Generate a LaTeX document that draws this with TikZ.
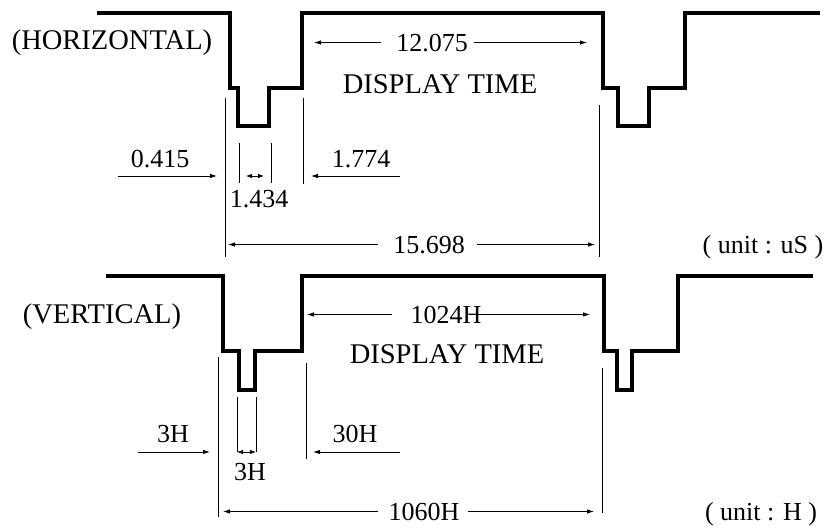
\documentclass[tikz,border=0pt]{standalone}
\usepackage{fontspec}
\setmainfont{Liberation Serif}
\usetikzlibrary{arrows.meta}

\tikzset{
  wave/.style={line width=3.2pt, line join=miter},
  extline/.style={line width=0.8pt},
  dimarrow/.style={line width=0.8pt, -{Latex[length=7pt,width=4.5pt]}},
  dimboth/.style={line width=0.8pt, {Latex[length=6pt,width=4.5pt]}-{Latex[length=6pt,width=4.5pt]}},
  bigtext/.style={font=\fontsize{28.5}{30}\selectfont, inner sep=0pt, anchor=base},
  numtext/.style={font=\fontsize{26}{28}\selectfont, inner sep=0pt, anchor=base}
}

\begin{document}
\begin{tikzpicture}[x=1pt,y=-1pt]
    \fill[white] (0,0) rectangle (831,528);
    \useasboundingbox (0,0) rectangle (831,528);

    % Horizontal timing
    \draw[wave] (97,13) -| (230,88) -| (238,126) -| (269,88) -| (302,13)
        -| (603,88) -| (618,126) -| (649,88) -| (685,13) -- (820,13);
    \node[bigtext] (hname) at (112,49) {(HORIZONTAL)};
    \node[numtext] (h12075) at (432,51) {12.075};
    \node[bigtext] (hdisp) at (440,93) {DISPLAY TIME};
    \node[numtext] (h0415) at (160,167) {0.415};
    \node[numtext] (h1434) at (259,207) {1.434};
    \node[numtext] (h1774) at (361,167) {1.774};
    \node[numtext] (h15698) at (429,253) {15.698};
    \node[numtext] (hunit) at (763,253) {( unit : uS )};

    \coordinate (hA1) at (225,98);  \coordinate (hA2) at (225,257);
    \coordinate (hB1) at (239,143); \coordinate (hB2) at (239,183);
    \coordinate (hC1) at (271,143); \coordinate (hC2) at (271,183);
    \coordinate (hD1) at (303,98);  \coordinate (hD2) at (303,184);
    \coordinate (hE1) at (599,105); \coordinate (hE2) at (599,257);
    \draw[extline] (hA1) -- (hA2);
    \draw[extline] (hB1) -- (hB2);
    \draw[extline] (hC1) -- (hC2);
    \draw[extline] (hD1) -- (hD2);
    \draw[extline] (hE1) -- (hE2);

    \coordinate (h415s) at (118,176); \coordinate (h415e) at (217,176);
    \coordinate (h1434s) at (246,176); \coordinate (h1434e) at (264,176);
    \coordinate (h1774s) at (400,176); \coordinate (h1774e) at (311,176);
    \coordinate (h12l) at (314,43); \coordinate (h12r) at (587,43);
    \coordinate (h156l) at (228,245); \coordinate (h156r) at (595,245);
    \draw[dimarrow] (h415s) -- (h415e);
    \draw[dimboth] (h1434s) -- (h1434e);
    \draw[dimarrow] (h1774s) -- (h1774e);
    \draw[dimarrow,shorten <=15pt] (h12075.west) -- (h12075.west -| h12l);
    \draw[dimarrow,shorten <=6pt] (h12075.east) -- (h12075.east -| h12r);
    \draw[dimarrow,shorten <=15pt] (h15698.west) -- (h15698.west -| h156l);
    \draw[dimarrow,shorten <=12pt] (h15698.east) -- (h15698.east -| h156r);

    % Vertical timing
    \draw[wave] (106,276) -| (223,351) -| (239,390) -| (255,351) -| (302,276)
        -| (604,351) -| (617,390) -| (632,351) -| (678,276) -- (813,276);
    \node[bigtext] (vname) at (102,323) {(VERTICAL)};
    \node[numtext] (v1024) at (446,323) {1024H};
    \node[bigtext] (vdisp) at (447,363) {DISPLAY TIME};
    \node[numtext] (v3a) at (173,442) {3H};
    \node[numtext] (v3b) at (250,480) {3H};
    \node[numtext] (v30) at (355,442) {30H};
    \node[numtext] (v1060) at (424,520) {1060H};
    \node[numtext] (vunit) at (761,520) {( unit : H )};

    \coordinate (vA1) at (218,357); \coordinate (vA2) at (218,517);
    \coordinate (vB1) at (237,397); \coordinate (vB2) at (237,452);
    \coordinate (vC1) at (256,397); \coordinate (vC2) at (256,452);
    \coordinate (vD1) at (306,363); \coordinate (vD2) at (306,459);
    \coordinate (vE1) at (602,368); \coordinate (vE2) at (602,513);
    \draw[extline] (vA1) -- (vA2);
    \draw[extline] (vB1) -- (vB2);
    \draw[extline] (vC1) -- (vC2);
    \draw[extline] (vD1) -- (vD2);
    \draw[extline] (vE1) -- (vE2);

    \coordinate (v3s) at (138,452); \coordinate (v3e) at (210,452);
    \coordinate (v3bs) at (237,452); \coordinate (v3be) at (256,452);
    \coordinate (v30s) at (400,452); \coordinate (v30e) at (313,452);
    \coordinate (v1024l) at (307,317); \coordinate (v1024r) at (590,317);
    \coordinate (v1060l) at (223,511); \coordinate (v1060r) at (594,511);
    \draw[dimarrow] (v3s) -- (v3e);
    \draw[dimboth] (v3bs) -- (v3be);
    \draw[dimarrow] (v30s) -- (v30e);
    \draw[dimarrow,shorten <=18pt] (v1024.west) -- (v1024.west -| v1024l);
    \draw[dimarrow] ([xshift=-12pt]v1024.east) -- (v1024.east -| v1024r);
    \draw[dimarrow,shorten <=10pt] (v1060.west) -- (v1060.west -| v1060l);
    \draw[dimarrow,shorten <=8pt] (v1060.east) -- (v1060.east -| v1060r);
\end{tikzpicture}
\end{document}
